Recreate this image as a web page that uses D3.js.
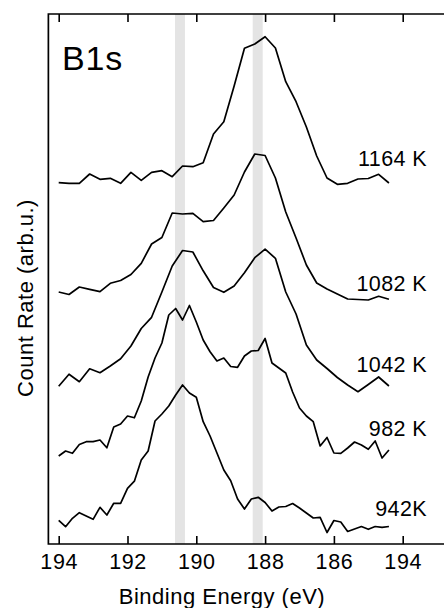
<!DOCTYPE html>
<html>
<head>
<meta charset="utf-8">
<script src="https://cdn.jsdelivr.net/npm/d3@7"></script>
<style>
  html, body { margin: 0; padding: 0; background: #fff; }
  svg { display: block; }
  text { font-family: "Liberation Sans", Arial, Helvetica, sans-serif; fill: #000; }
</style>
</head>
<body>
<svg id="chart" width="444" height="608"></svg>
<script>
// Binding energy grids (eV): 0.3 eV steps for the hot scans, 0.2 eV for the cooler ones
const energyCoarse = [194.0,193.7,193.4,193.1,192.8,192.5,192.2,191.9,191.6,191.3,191.0,190.7,190.4,190.1,189.8,189.5,189.2,188.9,188.6,188.3,188.0,187.7,187.4,187.1,186.8,186.5,186.2,185.9,185.6,185.3,185.0,184.7,184.4];
const energyFine = [194.0,193.8,193.6,193.4,193.2,193.0,192.8,192.6,192.4,192.2,192.0,191.8,191.6,191.4,191.2,191.0,190.8,190.6,190.4,190.2,190.0,189.8,189.6,189.4,189.2,189.0,188.8,188.6,188.4,188.2,188.0,187.8,187.6,187.4,187.2,187.0,186.8,186.6,186.4,186.2,186.0,185.8,185.6,185.4,185.2,185.0,184.8,184.6,184.4];

// Stacked B1s count rates (arb.u., offset per temperature)
const rate1164 = [361.3,360.7,360.7,370,364.7,365.7,360.7,371.7,363.7,371.7,373.3,367.3,378,377.3,381.3,410,422.3,458,495.7,500,507.3,496,462.3,442.3,417,388,366,359.7,360.7,365,365.5,369.7,361];
const rate1082 = [252,249.5,257,254.7,252.3,260.7,263.5,269.5,280.7,300,306.5,331,330,330.7,322.3,323.5,336,349,372,390,388.5,366,332,306,279,261,255,250,245,244.5,244,247.7,244.7];
const rate1042 = [157.7,169.8,162.3,175.2,171.3,178,185.2,198,215.5,226.7,252,278,293.5,292,273.2,256.5,251.7,258,271.3,286.3,294.8,285.7,252,230,199,184,175.5,166.5,159,152.3,159.5,167,158];
const rate982 = [88,93,90.7,99.5,102.3,102.3,104,96.2,117,120,128,126.2,143,167,186,201,229,235.5,224,238.5,222,204,192.3,183,186,177.5,176.7,188,193,193.5,205.5,181,176,171,152,136,128,122.3,98,106.5,91,90.7,96,102,99,94.7,103,86,94];
const rate942 = [23.7,17.3,25.7,31.3,28,24.7,36.7,29,40.7,40.7,55.7,62.8,84,93,123,130,138,149,159,151,146.7,122.3,108,91,74,63.3,45,35,45,46.7,41.5,33,37,37.5,40.5,36,31,26,26.7,11.5,23.5,22,12.5,15,17.5,14.7,17.5,16.7,17.5];

const seriesNames = ["1164 K", "1082 K", "1042 K", "982 K", "942K"];

// Marked component positions (eV)
const bandLow = [190.33, 188.07];
const bandHigh = [190.62, 188.36];

// Axis ticks
const tickValues = [194, 192, 190, 188, 186, 184];
const tickLabels = ["194", "192", "190", "188", "186", "194"];

const svg = d3.select("#chart");
const FONT = "'Liberation Sans', Arial, Helvetica, sans-serif";

const x = d3.scaleLinear().domain([194, 184]).range([58.7, 402.7]);
const y = d3.scaleLinear().domain([0, 530]).range([544, 14]);

const frameLeft = x(194.3), frameRight = x(182.0);
const frameTop = y(530), frameBottom = y(0);

// shaded bands
svg.append("g").selectAll("rect")
  .data(d3.zip(bandLow, bandHigh))
  .join("rect")
  .attr("x", d => x(d[1]))
  .attr("width", d => x(d[0]) - x(d[1]))
  .attr("y", frameTop)
  .attr("height", frameBottom - frameTop)
  .attr("fill", "#e4e4e4");

// spectra
const series = [
  { e: energyCoarse, v: rate1164 },
  { e: energyCoarse, v: rate1082 },
  { e: energyCoarse, v: rate1042 },
  { e: energyFine, v: rate982 },
  { e: energyFine, v: rate942 }
];
const line = d3.line().x(d => x(d[0])).y(d => y(d[1]));
svg.append("g").selectAll("path")
  .data(series)
  .join("path")
  .attr("d", s => line(d3.zip(s.e, s.v)))
  .attr("fill", "none")
  .attr("stroke", "#000")
  .attr("stroke-width", 1.7)
  .attr("stroke-linejoin", "round");

// temperature labels
const labelBaseline = [166, 290.7, 371.7, 436, 516];
svg.append("g").selectAll("text")
  .data(seriesNames)
  .join("text")
  .attr("x", 427)
  .attr("y", (d, i) => labelBaseline[i])
  .attr("text-anchor", "end")
  .attr("font-size", 21.5)
  .attr("letter-spacing", 0.4)
  .text(d => d);

// bottom axis, ticks pointing inward
const xAxis = d3.axisBottom(x)
  .tickValues(tickValues)
  .tickFormat((d, i) => tickLabels[i])
  .tickSize(-8)
  .tickPadding(9.3);
const gx = svg.append("g").attr("transform", `translate(0,${frameBottom})`).call(xAxis);
gx.select(".domain").remove();
gx.selectAll("line").attr("stroke", "#000").attr("stroke-width", 1.6);
gx.selectAll("text").attr("font-size", 21.5).attr("fill", "#000")
  .attr("letter-spacing", 0.6)
  .attr("font-family", FONT);

// top axis, ticks only
const xTop = d3.axisTop(x).tickValues(tickValues).tickFormat("").tickSize(-8);
const gt = svg.append("g").attr("transform", `translate(0,${frameTop})`).call(xTop);
gt.select(".domain").remove();
gt.selectAll("line").attr("stroke", "#000").attr("stroke-width", 1.6);

// frame
svg.append("path")
  .attr("d", `M${frameRight},${frameTop}H${frameLeft}V${frameBottom}H${frameRight}`)
  .attr("fill", "none")
  .attr("stroke", "#000")
  .attr("stroke-width", 1.7);

// panel title
svg.append("text")
  .attr("x", 62)
  .attr("y", 70)
  .attr("font-size", 34)
  .attr("letter-spacing", 0.8)
  .text("B1s");

// axis titles
svg.append("text")
  .attr("x", 222)
  .attr("y", 603.5)
  .attr("text-anchor", "middle")
  .attr("font-size", 22)
  .attr("letter-spacing", 0.5)
  .text("Binding Energy (eV)");

svg.append("text")
  .attr("transform", "translate(32.5,298) rotate(-90)")
  .attr("text-anchor", "middle")
  .attr("font-size", 22)
  .attr("letter-spacing", 0.5)
  .text("Count Rate (arb.u.)");
</script>
</body>
</html>
